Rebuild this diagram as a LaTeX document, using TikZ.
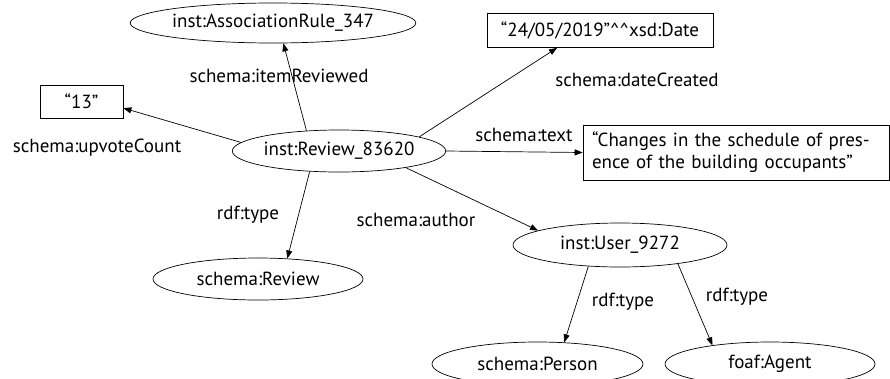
\documentclass[tikz,border=0pt]{standalone}
\usepackage{fontspec}
\setmainfont{PT Sans}
\usetikzlibrary{shapes.geometric,arrows.meta}
\begin{document}
\begin{tikzpicture}[x=1pt,y=-1pt,
  font=\fontsize{19}{22}\selectfont,
  ell/.style={draw,ellipse,line width=0.7pt,inner sep=0pt},
  lit/.style={draw,rectangle,line width=0.7pt,inner sep=0pt},
  lbl/.style={inner sep=0pt},
  arr/.style={line width=0.7pt,-{Triangle[length=8pt,width=6pt]}}]
\clip (0,0) rectangle (890,378);
\useasboundingbox (0,0) rectangle (890,378);
% nodes
\node[ell,minimum width=264pt,minimum height=40pt] (ar) at (273,23) {inst:AssociationRule\_347};
\node[lit,minimum width=83pt,minimum height=33pt] (c13) at (81.5,101.5) {“13”};
\node[ell,minimum width=212pt,minimum height=42pt] (rev) at (339,151) {inst:Review\_83620};
\node[lit,minimum width=226pt,minimum height=34pt] (date) at (600,30.5) {“24/05/2019”\textasciicircum\textasciicircum xsd:Date};
\node[lit,minimum width=306pt,minimum height=55pt,align=left,text width=288pt] (txt) at (736,152.5) {“Changes in the schedule of pres-\\ence of the building occupants”};
\node[ell,minimum width=210pt,minimum height=42pt] (sr) at (258,279) {schema:Review};
\node[ell,minimum width=214pt,minimum height=44pt] (user) at (620,245) {inst:User\_9272};
\node[ell,minimum width=211pt,minimum height=44pt] (person) at (537.5,364) {schema:Person};
\node[ell,minimum width=210pt,minimum height=44pt] (agent) at (770,364) {foaf:Agent};
% labels
\node[lbl] (l1) at (279,76) {schema:itemReviewed};
\node[lbl] (l2) at (97,148) {schema:upvoteCount};
\node[lbl] (l3) at (637,80) {schema:dateCreated};
\node[lbl] (l4) at (524,135) {schema:text};
\node[lbl] (l5) at (248,215) {rdf:type};
\node[lbl] (l6) at (416,220) {schema:author};
\node[lbl] (l7) at (623,302) {rdf:type};
\node[lbl] (l8) at (737,297) {rdf:type};
% edges
\draw[arr] (rev.148) -- (ar.-63);
\draw[arr] (rev.175.5) -- (c13.-9);
\draw[arr] (rev.10) -- (date.-158);
\draw[arr] (rev.east) -- (txt.west);
\draw[arr] (rev.-145) -- (sr.35);
\draw[arr] (rev.-14.6) -- (user.170);
\draw[arr] (user.-146) -- (person.39);
\draw[arr] (user.-18) -- (agent.162);
\end{tikzpicture}
\end{document}
